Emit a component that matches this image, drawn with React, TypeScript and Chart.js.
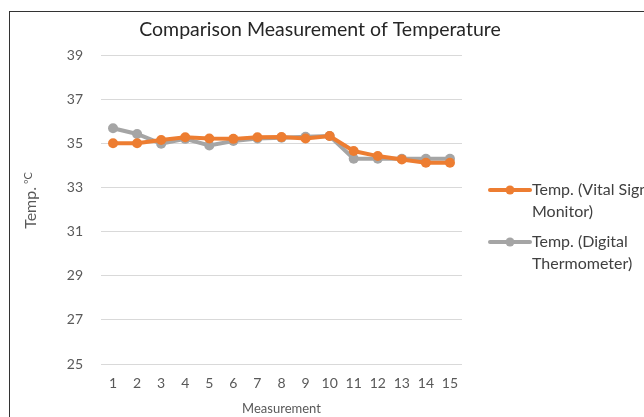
import React, { useEffect, useRef } from "react";
import { Chart, registerables } from "chart.js";

Chart.register(...registerables);

const CATEGORIES = ["1", "2", "3", "4", "5", "6", "7", "8", "9", "10", "11", "12", "13", "14", "15"];
const VITAL_SIGN = [35.0, 35.0, 35.15, 35.27, 35.22, 35.2, 35.27, 35.28, 35.22, 35.33, 34.65, 34.42, 34.27, 34.12, 34.12];
const DIGITAL = [35.68, 35.42, 34.98, 35.2, 34.9, 35.1, 35.22, 35.25, 35.3, 35.33, 34.3, 34.3, 34.3, 34.3, 34.3];
const SERIES_NAMES = ["Temp. (Vital Sign Monitor)", "Temp. (Digital Thermometer)"];
const SERIES_COLORS = ["#ED7D31", "#A5A5A5"];
const Y_MIN = 25;
const Y_MAX = 39;
const Y_STEP = 2;
const TITLE = "Comparison Measurement of Temperature";
const X_TITLE = "Measurement";
const Y_TITLE_MAIN = "Temp. ";
const Y_TITLE_UNIT = "ºC";

const FONT = "Lato, 'Open Sans', sans-serif";

function wrapText(ctx: CanvasRenderingContext2D, text: string, maxWidth: number): string[] {
  const words = text.split(" ");
  const lines: string[] = [];
  let cur = "";
  for (const w of words) {
    const test = cur ? cur + " " + w : w;
    if (cur && ctx.measureText(test).width > maxWidth) {
      lines.push(cur);
      cur = w;
    } else {
      cur = test;
    }
  }
  if (cur) lines.push(cur);
  return lines;
}

const decorations = {
  id: "decorations",
  afterDraw(chart: any) {
    const { ctx, chartArea } = chart;
    ctx.save();

    // Title
    ctx.font = `19.5px ${FONT}`;
    ctx.fillStyle = "#262626";
    ctx.textAlign = "center";
    ctx.textBaseline = "middle";
    ctx.fillText(TITLE, chart.width / 2 - 2, chartArea.top - 25);

    // Y axis title (rotated, with small raised unit)
    ctx.save();
    ctx.translate(chartArea.left - 71, chartArea.top + 145);
    ctx.rotate(-Math.PI / 2);
    ctx.font = `16px ${FONT}`;
    const w1 = ctx.measureText(Y_TITLE_MAIN).width;
    ctx.font = `11px ${FONT}`;
    const w2 = ctx.measureText(Y_TITLE_UNIT).width;
    const start = -(w1 + w2) / 2;
    ctx.fillStyle = "#595959";
    ctx.textAlign = "left";
    ctx.textBaseline = "alphabetic";
    ctx.font = `16px ${FONT}`;
    ctx.fillText(Y_TITLE_MAIN, start, 6);
    ctx.font = `11px ${FONT}`;
    ctx.fillText(Y_TITLE_UNIT, start + w1 - 1, 2);
    ctx.restore();

    // Side legend
    ctx.font = `16px ${FONT}`;
    ctx.textBaseline = "middle";
    ctx.textAlign = "left";
    const x0 = chartArea.right + 28;
    let y = chartArea.top + 135;
    chart.data.datasets.forEach((ds: any) => {
      const lines = wrapText(ctx, ds.label, 130);
      ctx.strokeStyle = ds.borderColor;
      ctx.lineWidth = 4;
      ctx.lineCap = "round";
      ctx.beginPath();
      ctx.moveTo(x0, y);
      ctx.lineTo(x0 + 40, y);
      ctx.stroke();
      ctx.fillStyle = ds.borderColor;
      ctx.beginPath();
      ctx.arc(x0 + 20, y, 4.5, 0, Math.PI * 2);
      ctx.fill();
      ctx.fillStyle = "#404040";
      lines.forEach((l: string, i: number) => ctx.fillText(l, x0 + 42, y + i * 22));
      y += 52;
    });
    ctx.restore();
  },
};

export default function App() {
  const ref = useRef<HTMLCanvasElement | null>(null);

  useEffect(() => {
    if (!ref.current) return;
    const chart = new Chart(ref.current, {
      type: "line",
      data: {
        labels: CATEGORIES,
        datasets: [VITAL_SIGN, DIGITAL].map((d, i) => ({
          label: SERIES_NAMES[i],
          data: d,
          borderColor: SERIES_COLORS[i],
          backgroundColor: SERIES_COLORS[i],
          pointBackgroundColor: SERIES_COLORS[i],
          pointBorderColor: SERIES_COLORS[i],
          borderWidth: 4,
          pointRadius: 5,
          pointBorderWidth: 0,
          tension: 0,
        })),
      },
      options: {
        responsive: false,
        animation: false,
        layout: { padding: { left: 12, right: 182, top: 55, bottom: 0 } },
        plugins: {
          legend: { display: false },
          tooltip: { enabled: false },
          title: { display: false },
        },
        scales: {
          x: {
            offset: true,
            grid: { display: false, drawTicks: false },
            border: { display: false },
            ticks: { color: "#595959", font: { family: FONT, size: 14 }, padding: 11, maxRotation: 0, autoSkip: false },
            title: { display: true, text: X_TITLE, color: "#595959", font: { family: FONT, size: 13 }, padding: { top: 2, bottom: 0 } },
            afterFit: (s: any) => { s.height = 53; },
          },
          y: {
            min: Y_MIN,
            max: Y_MAX,
            grid: { color: "#D9D9D9", drawTicks: false, lineWidth: 1 },
            border: { display: false },
            ticks: { stepSize: Y_STEP, color: "#595959", font: { family: FONT, size: 14 }, padding: 18 },
            afterFit: (s: any) => { s.width = 89; },
          },
        },
      },
      plugins: [decorations],
    });
    return () => chart.destroy();
  }, []);

  return (
    <div style={{ position: "fixed", left: 0, top: 0, width: 644, height: 417, overflow: "hidden", background: "#fff" }}>
      <div style={{ position: "absolute", left: 9, top: 11, width: 800, height: 600, borderLeft: "1px solid #333", borderTop: "1px solid #333" }} />
      <canvas ref={ref} width={644} height={417} style={{ position: "absolute", left: 0, top: 0, width: 644, height: 417 }} />
    </div>
  );
}
